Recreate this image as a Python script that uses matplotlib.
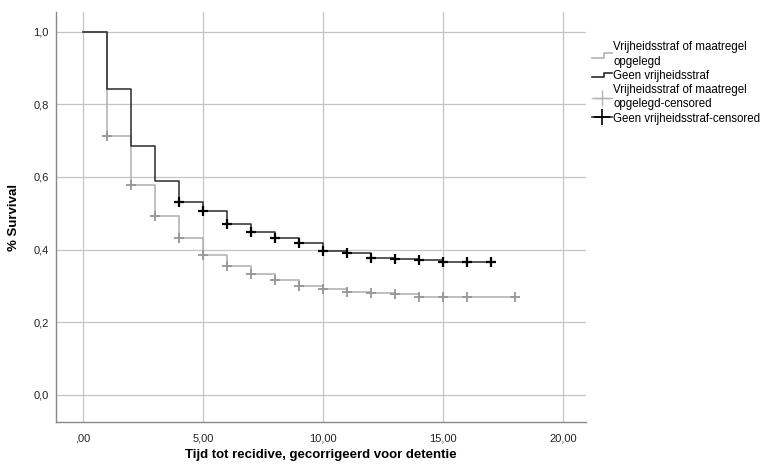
import matplotlib
matplotlib.use("Agg")
import matplotlib.pyplot as plt
import numpy as np
from matplotlib.legend_handler import HandlerBase
from matplotlib.lines import Line2D

plt.rcParams['font.family'] = ['Liberation Sans', 'DejaVu Sans']

# Kaplan-Meier estimates
tijd_vrij = [0, 1, 2, 3, 4, 5, 6, 7, 8, 9, 10, 11, 12, 13, 14, 15, 16, 18]
surv_vrij = [1.0, 0.714, 0.577, 0.493, 0.432, 0.386, 0.355, 0.332, 0.315, 0.299,
             0.291, 0.282, 0.279, 0.277, 0.268, 0.268, 0.268, 0.268]
cens_vrij = [1, 2, 3, 4, 5, 6, 7, 8, 9, 10, 11, 12, 13, 14, 15, 16, 18]

tijd_geen = [0, 1, 2, 3, 4, 5, 6, 7, 8, 9, 10, 11, 12, 13, 14, 15, 16, 17]
surv_geen = [1.0, 0.841, 0.685, 0.588, 0.531, 0.507, 0.470, 0.448, 0.431, 0.417,
             0.397, 0.391, 0.377, 0.375, 0.370, 0.366, 0.366, 0.366]
cens_geen = [4, 5, 6, 7, 8, 9, 10, 11, 12, 13, 14, 15, 16, 17]

x_ticks = [0, 5, 10, 15, 20]
x_ticklabels = [',00', '5,00', '10,00', '15,00', '20,00']
y_ticks = [0.0, 0.2, 0.4, 0.6, 0.8, 1.0]
y_ticklabels = ['0,0', '0,2', '0,4', '0,6', '0,8', '1,0']

labels = ['Vrijheidsstraf of maatregel\nopgelegd', 'Geen vrijheidsstraf',
          'Vrijheidsstraf of maatregel\nopgelegd-censored', 'Geen vrijheidsstraf-censored']

c_gray_line = '#b4b4b4'
c_gray_mark = '#969696'
c_black_line = '#2b2b2b'
c_black_mark = '#000000'


def surv_at(tijd, surv, t):
    idx = np.searchsorted(tijd, t, side='right') - 1
    return surv[idx]


class StepHandler(HandlerBase):
    def create_artists(self, legend, orig_handle, xdescent, ydescent, width, height, fontsize, trans):
        x0 = -xdescent
        y0 = -ydescent + height * 0.15
        y1 = -ydescent + height * 0.7
        xs = [x0, x0 + width * 0.6, x0 + width * 0.6, x0 + width]
        ys = [y0, y0, y1, y1]
        ln = Line2D(xs, ys, color=orig_handle.get_color(), lw=orig_handle.get_linewidth(), transform=trans)
        return [ln]


fig = plt.figure(figsize=(7.67, 4.65), dpi=100)
ax = fig.add_axes([0.0727, 0.0925, 0.6913, 0.8815])

ax.set_xlim(-1.12, 20.95)
ax.set_ylim(-0.075, 1.054)

for xv in x_ticks:
    ax.axvline(xv, color='#c4c4c4', lw=0.9, zorder=0)
for yv in y_ticks:
    ax.axhline(yv, color='#c4c4c4', lw=0.9, zorder=0)

ax.step(tijd_vrij, surv_vrij, where='post', color=c_gray_line, lw=1.2, zorder=2)
ax.step(tijd_geen, surv_geen, where='post', color=c_black_line, lw=1.1, zorder=3)

ax.plot(cens_vrij, [surv_at(tijd_vrij, surv_vrij, t) for t in cens_vrij], ls='none',
        marker='+', ms=7, mew=1.3, color=c_gray_mark, zorder=4)
ax.plot(cens_geen, [surv_at(tijd_geen, surv_geen, t) for t in cens_geen], ls='none',
        marker='+', ms=7, mew=1.6, color=c_black_mark, zorder=5)

ax.set_xticks(x_ticks)
ax.set_xticklabels(x_ticklabels)
ax.set_yticks(y_ticks)
ax.set_yticklabels(y_ticklabels)
ax.tick_params(length=0, labelsize=8, pad=8, colors='#222222')
ax.tick_params(axis='y', pad=5)

for s in ['top', 'right']:
    ax.spines[s].set_visible(False)
for s in ['left', 'bottom']:
    ax.spines[s].set_color('#888888')
    ax.spines[s].set_linewidth(1.0)

ax.set_xlabel('Tijd tot recidive, gecorrigeerd voor detentie', fontsize=9.5, fontweight='bold', labelpad=4)
ax.set_ylabel('% Survival', fontsize=9.5, fontweight='bold', labelpad=10)

h1 = Line2D([], [], color=c_gray_line, lw=1.2)
h2 = Line2D([], [], color=c_black_line, lw=1.2)
h3 = Line2D([], [], color=c_gray_line, lw=1.0, marker='+', ms=11, mew=1.0, markeredgecolor=c_gray_line)
h4 = Line2D([], [], color=c_black_line, lw=1.2, marker='+', ms=11, mew=1.2, markeredgecolor=c_black_mark)

leg = fig.legend([h1, h2, h3, h4], labels, loc='upper left', bbox_to_anchor=(0.766, 0.922),
                 frameon=False, fontsize=8.3, handlelength=1.7, handletextpad=0.15, labelspacing=0.18,
                 borderaxespad=0, handler_map={h1: StepHandler(), h2: StepHandler()})
for txt in leg.get_texts():
    txt.set_linespacing(1.3)

fig.savefig('out.png', dpi=100)
